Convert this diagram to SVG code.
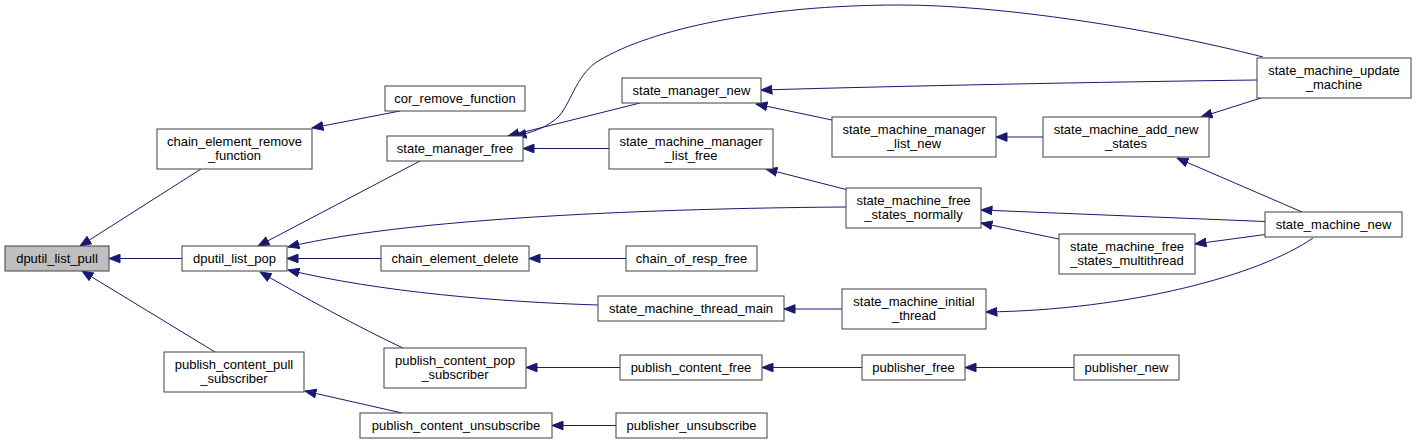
<svg xmlns="http://www.w3.org/2000/svg" width="1416" height="445" viewBox="0 0 1416 445">
<style>
.n rect{fill:#ffffff;stroke:#404040;stroke-width:1}
.n.h rect{fill:#bfbfbf}
.n text{font-family:"Liberation Sans",Arial,sans-serif;font-size:13px;fill:#000;text-anchor:middle}
.e path{fill:none;stroke:#191970;stroke-width:1;marker-end:url(#ah)}
</style>
<defs>
<marker id="ah" viewBox="0 0 12 10" refX="11.5" refY="5" markerWidth="12" markerHeight="10" markerUnits="userSpaceOnUse" orient="auto">
<path d="M0.5,0.7 L11.5,5 L0.5,9.3 z" fill="#191970" stroke="#191970" stroke-width="1"/>
</marker>
</defs>
<rect width="1416" height="445" fill="#ffffff"/>
<g id="edges" class="e">
<path d="M201,169 L80,246"/>
<path d="M182,258.5 L109,258.5"/>
<path d="M215,352 L82,271"/>
<path d="M400,111 L312,128"/>
<path d="M420,161 L258,246"/>
<path d="M846,207 C700,208 420,215 288,247"/>
<path d="M381,258.5 L287,258.5"/>
<path d="M598,305 C500,302 380,292 288,270"/>
<path d="M403,348 C360,328 300,295 260,272"/>
<path d="M402,413 L305,391"/>
<path d="M640,103 L508,136"/>
<path d="M1263,57 C1150,28 1000,5 900,5 C760,5 650,30 600,60 C578,72 572,100 560,115 C548,128 530,133 515,136"/>
<path d="M609,148.5 L523,148.5"/>
<path d="M1257,80 C1100,82 900,86 761,90"/>
<path d="M832,120 L756,104"/>
<path d="M848,190 L766,169"/>
<path d="M1043,137 L996,137"/>
<path d="M1261,98 L1201,117"/>
<path d="M1302,212 L1177,158"/>
<path d="M1265,221.5 L981,210"/>
<path d="M1059,239 L981,223"/>
<path d="M1265,234.5 L1195,244"/>
<path d="M842,309 L784,309"/>
<path d="M1313,238 C1260,275 1130,310 986,312"/>
<path d="M626,258.5 L529,258.5"/>
<path d="M620,367.5 L526,367.5"/>
<path d="M862,367.5 L762,367.5"/>
<path d="M1074,367.5 L965,367.5"/>
<path d="M616,425.5 L552,425.5"/>
</g>
<g id="dputil_list_pull" class="n h"><rect x="5" y="246" width="104" height="25"/><text x="57" y="262.5">dputil_list_pull</text></g>
<g id="chain_element_remove_function" class="n"><rect x="157" y="129" width="155" height="40"/><text x="234.5" y="145.5">chain_element_remove</text><text x="234.5" y="160">_function</text></g>
<g id="dputil_list_pop" class="n"><rect x="182" y="246" width="105" height="25"/><text x="234.5" y="262.5">dputil_list_pop</text></g>
<g id="publish_content_pull_subscriber" class="n"><rect x="164" y="352" width="140" height="40"/><text x="234" y="368.5">publish_content_pull</text><text x="234" y="383">_subscriber</text></g>
<g id="cor_remove_function" class="n"><rect x="385" y="86" width="140" height="25"/><text x="455" y="102.5">cor_remove_function</text></g>
<g id="state_manager_free" class="n"><rect x="387" y="136" width="136" height="25"/><text x="455" y="152.5">state_manager_free</text></g>
<g id="chain_element_delete" class="n"><rect x="381" y="246" width="148" height="25"/><text x="455" y="262.5">chain_element_delete</text></g>
<g id="publish_content_pop_subscriber" class="n"><rect x="384" y="348" width="142" height="40"/><text x="455" y="364.5">publish_content_pop</text><text x="455" y="379">_subscriber</text></g>
<g id="publish_content_unsubscribe" class="n"><rect x="360" y="413" width="192" height="25"/><text x="456" y="429.5">publish_content_unsubscribe</text></g>
<g id="state_manager_new" class="n"><rect x="622" y="78" width="139" height="25"/><text x="691.5" y="94.5">state_manager_new</text></g>
<g id="state_machine_manager_list_free" class="n"><rect x="609" y="129" width="164" height="40"/><text x="691" y="145.5">state_machine_manager</text><text x="691" y="160">_list_free</text></g>
<g id="chain_of_resp_free" class="n"><rect x="626" y="246" width="131" height="25"/><text x="691.5" y="262.5">chain_of_resp_free</text></g>
<g id="state_machine_thread_main" class="n"><rect x="598" y="296" width="186" height="25"/><text x="691" y="312.5">state_machine_thread_main</text></g>
<g id="publish_content_free" class="n"><rect x="620" y="355" width="142" height="25"/><text x="691" y="371.5">publish_content_free</text></g>
<g id="publisher_unsubscribe" class="n"><rect x="616" y="413" width="151" height="25"/><text x="691.5" y="429.5">publisher_unsubscribe</text></g>
<g id="state_machine_manager_list_new" class="n"><rect x="832" y="117" width="164" height="40"/><text x="914" y="133.5">state_machine_manager</text><text x="914" y="148">_list_new</text></g>
<g id="state_machine_free_states_normally" class="n"><rect x="846" y="188" width="135" height="40"/><text x="913.5" y="204.5">state_machine_free</text><text x="913.5" y="219">_states_normally</text></g>
<g id="state_machine_initial_thread" class="n"><rect x="842" y="289" width="144" height="40"/><text x="914" y="305.5">state_machine_initial</text><text x="914" y="320">_thread</text></g>
<g id="publisher_free" class="n"><rect x="862" y="355" width="103" height="25"/><text x="913.5" y="371.5">publisher_free</text></g>
<g id="state_machine_add_new_states" class="n"><rect x="1043" y="117" width="166" height="40"/><text x="1126" y="133.5">state_machine_add_new</text><text x="1126" y="148">_states</text></g>
<g id="state_machine_free_states_multithread" class="n"><rect x="1059" y="234" width="136" height="40"/><text x="1127" y="250.5">state_machine_free</text><text x="1127" y="265">_states_multithread</text></g>
<g id="publisher_new" class="n"><rect x="1074" y="355" width="105" height="25"/><text x="1126.5" y="371.5">publisher_new</text></g>
<g id="state_machine_update_machine" class="n"><rect x="1257" y="58" width="154" height="40"/><text x="1334" y="74.5">state_machine_update</text><text x="1334" y="89">_machine</text></g>
<g id="state_machine_new" class="n"><rect x="1265" y="212" width="137" height="25"/><text x="1333.5" y="228.5">state_machine_new</text></g>
</svg>
